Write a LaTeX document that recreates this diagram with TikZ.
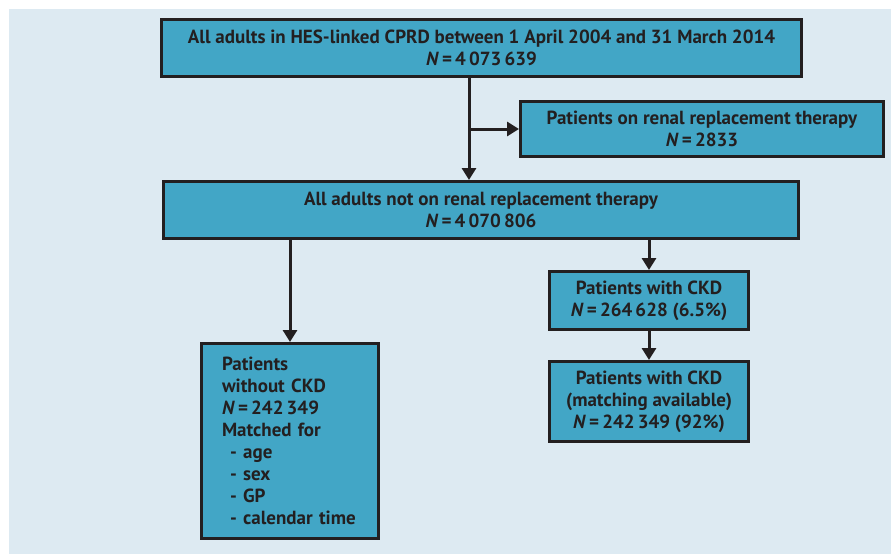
\documentclass[tikz,border=0pt]{standalone}
\usepackage{fontspec}
\setmainfont{PT Sans}
\usetikzlibrary{arrows.meta,calc}
\definecolor{bgblue}{HTML}{DDEAF2}
\definecolor{boxblue}{HTML}{42A6C6}
\definecolor{ink}{HTML}{231F20}
\tikzset{
  fbox/.style={draw=ink, fill=boxblue, line width=3pt, rectangle, inner sep=0pt,
    text=ink, font=\fontsize{19}{22}\selectfont\bfseries, align=center},
  conn/.style={draw=ink, line width=3pt},
  arr/.style={conn, -{Triangle[width=14pt,length=12pt]}}
}
\newcommand{\NN}{\textit{N}\,=\,}
\begin{document}
\begin{tikzpicture}[x=1pt,y=-1pt]
\useasboundingbox (0,0) rectangle (891,554);
\fill[bgblue] (9,9) rectangle (891,554);
\node[fbox, minimum width=640pt, minimum height=57pt] (b1) at (481.5,48)
  {All adults in HES-linked CPRD between 1 April 2004 and 31 March 2014\\ \NN 4\,073\,639};
\node[fbox, minimum width=363pt, minimum height=55pt] (b2) at (702,129)
  {Patients on renal replacement therapy\\ \NN 2833};
\node[fbox, minimum width=635pt, minimum height=57pt] (b3) at (481,210)
  {All adults not on renal replacement therapy\\ \NN 4\,070\,806};
\node[fbox, minimum width=177pt, minimum height=195pt, align=left, text width=136pt] (b4) at (290,441)
  {Patients\\ without CKD\\ \NN 242\,349\\ Matched for\\ \hspace*{8pt}- age\\ \hspace*{8pt}- sex\\ \hspace*{8pt}- GP\\ \hspace*{8pt}- calendar time};
\node[fbox, minimum width=199pt, minimum height=58pt] (b5) at (649,300.5)
  {Patients with CKD\\ \NN 264\,628 (6.5\%)};
\node[fbox, minimum width=199pt, minimum height=80pt] (b6) at (649,401.5)
  {Patients with CKD\\ (matching available)\\ \NN 242\,349 (92\%)};
\coordinate (j) at (469,129);
\draw[arr] (j |- b1.south) -- (j |- b3.north);
\draw[arr] (j) -- (b2.west);
\draw[arr] (b4.north |- b3.south) -- (b4.north);
\draw[arr] (b5.north |- b3.south) -- (b5.north);
\draw[arr] (b5.south) -- (b6.north);
\end{tikzpicture}
\end{document}
